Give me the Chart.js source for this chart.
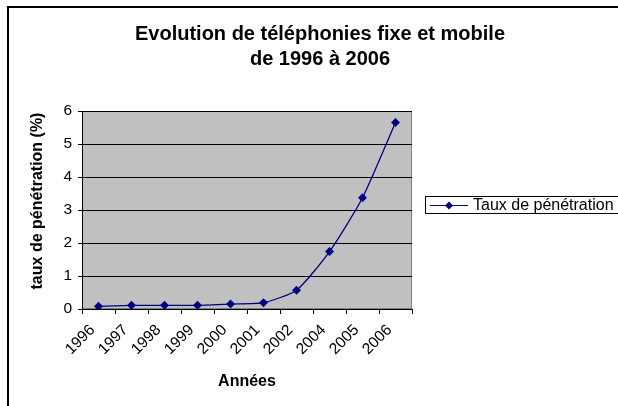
<!DOCTYPE html>
<html>
<head>
<meta charset="utf-8">
<script src="https://cdn.jsdelivr.net/npm/chart.js@4"></script>
<style>
  html, body { margin: 0; padding: 0; background: #fff; }
  #wrap { width: 618px; height: 406px; }
</style>
</head>
<body>
<div id="wrap"><canvas id="chart" width="618" height="406"></canvas></div>
<script>
'use strict';

// Years on the category axis (2003 is missing in the source)
const years = ['1996', '1997', '1998', '1999', '2000', '2001', '2002', '2004', '2005', '2006'];
// Penetration rate (%)
const penetration = [0.08, 0.11, 0.11, 0.11, 0.15, 0.19, 0.57, 1.74, 3.37, 5.65];
const yTicks = [0, 1, 2, 3, 4, 5, 6];
const titleLines = ['Evolution de téléphonies fixe et mobile', 'de 1996 à 2006'];
const yTitle = 'taux de pénétration (%)';

const FONT = '"Liberation Sans", Arial, sans-serif';
const NAVY = '#000080';

// Grey plot area, outer frame, titles and boxed legend, Excel style
const frame = {
  id: 'frame',
  beforeDraw(chart) {
    const { ctx, chartArea: a } = chart;
    ctx.save();
    ctx.fillStyle = '#c0c0c0';
    ctx.fillRect(a.left, a.top, a.right - a.left, a.bottom - a.top);
    ctx.strokeStyle = '#808080';
    ctx.lineWidth = 1;
    ctx.strokeRect(a.left + 0.5, a.top + 0.5, a.right - a.left - 1, a.bottom - a.top - 1);
    // outer chart border (left + top visible)
    ctx.fillStyle = '#000';
    ctx.fillRect(7, 6, 2, 400);
    ctx.fillRect(7, 6, 611, 2);
    // title
    ctx.font = 'bold 20px ' + FONT;
    ctx.textAlign = 'center';
    ctx.textBaseline = 'middle';
    ctx.fillText(titleLines[0], 320, 34);
    ctx.fillText(titleLines[1], 320, 59);
    // y axis title
    ctx.font = 'bold 16px ' + FONT;
    ctx.translate(38, 201);
    ctx.rotate(-Math.PI / 2);
    ctx.fillText(yTitle, 0, 0);
    ctx.restore();
  },
  afterDraw(chart) {
    const { ctx } = chart;
    const ds = chart.data.datasets[0];
    ctx.save();
    ctx.fillStyle = '#fff';
    ctx.fillRect(425, 197, 200, 16);
    ctx.strokeStyle = '#000';
    ctx.lineWidth = 1;
    ctx.strokeRect(425.5, 196.5, 200, 17);
    const y = 205.5;
    ctx.strokeStyle = ds.borderColor;
    ctx.lineWidth = 1.2;
    ctx.beginPath();
    ctx.moveTo(430, y);
    ctx.lineTo(468, y);
    ctx.stroke();
    ctx.fillStyle = ds.borderColor;
    ctx.beginPath();
    ctx.moveTo(449, y - 4);
    ctx.lineTo(453, y);
    ctx.lineTo(449, y + 4);
    ctx.lineTo(445, y);
    ctx.closePath();
    ctx.fill();
    ctx.fillStyle = '#000';
    ctx.font = '16px ' + FONT;
    ctx.textBaseline = 'middle';
    ctx.fillText(ds.label, 473, y);
    ctx.restore();
  }
};

new Chart(document.getElementById('chart'), {
  type: 'line',
  data: {
    labels: years,
    datasets: [{
      label: 'Taux de pénétration',
      data: penetration,
      borderColor: NAVY,
      backgroundColor: NAVY,
      borderWidth: 1.3,
      tension: 0.2,
      pointStyle: 'rectRot',
      pointRadius: 4.5,
      pointHoverRadius: 4.5,
      pointBorderWidth: 0,
    }],
  },
  options: {
    responsive: false,
    animation: false,
    layout: { padding: { top: 111, left: 22, right: 206, bottom: 0 } },
    plugins: {
      legend: { display: false },
      tooltip: { enabled: false },
    },
    scales: {
      x: {
        offset: true,
        grid: { offset: true, drawOnChartArea: false, color: '#000', tickLength: 5 },
        border: { color: '#000', width: 1 },
        ticks: {
          color: '#000', font: { family: FONT, size: 15.5 },
          maxRotation: 45, minRotation: 45, padding: 7, labelOffset: -6,
        },
        title: {
          display: true, text: 'Années', color: '#000',
          font: { family: FONT, size: 16, weight: 'bold' },
          padding: { top: 4, bottom: 15 },
        },
        afterFit(scale) { scale.height = 97; },
      },
      y: {
        min: 0,
        max: 6,
        afterBuildTicks(scale) { scale.ticks = yTicks.map(v => ({ value: v })); },
        grid: { color: '#000', tickLength: 4 },
        border: { color: '#000', width: 1 },
        ticks: { color: '#000', font: { family: FONT, size: 15.5 }, padding: 6 },
        afterFit(scale) { scale.width = 60; },
      },
    },
  },
  plugins: [frame],
});
</script>
</body>
</html>
